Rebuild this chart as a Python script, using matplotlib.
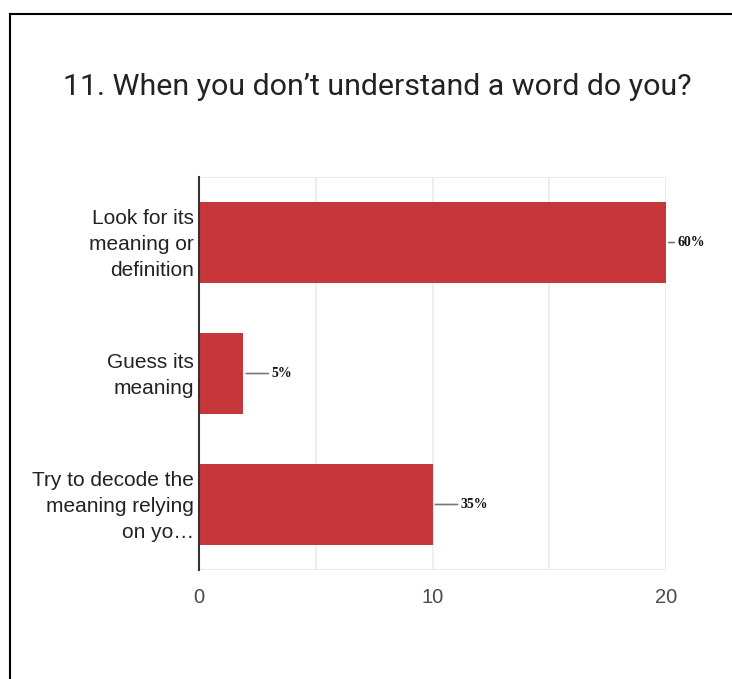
import matplotlib
matplotlib.use("Agg")
import matplotlib.pyplot as plt
from matplotlib.transforms import ScaledTranslation

# survey answers, top to bottom
answers = ["Look for its\nmeaning or\ndefinition",
           "Guess its\nmeaning",
           "Try to decode the\nmeaning relying\non yo\u2026"]
counts = [20, 1.9, 10]
pct_labels = ["60%", "5%", "35%"]
xticks = [0, 10, 20]

barColor = "#c6363a"

fig = plt.figure(figsize=(7.32, 6.79), dpi=100)
fig.patch.set_facecolor("white")

# black frame round the card (open at bottom / right edge)
fig.add_artist(plt.Line2D([10/732, 10/732], [0, 1 - 14/679], color="black", lw=1.5, transform=fig.transFigure))
fig.add_artist(plt.Line2D([10/732, 1], [1 - 14/679, 1 - 14/679], color="black", lw=1.5, transform=fig.transFigure))

fig.text(63/732, 1 - 87/679, "11. When you don\u2019t understand a word do you?",
         fontsize=21.9, family="Roboto", color="#222222", va="center", ha="left")

ax = fig.add_axes([199/732, 1 - 570/679, 467/732, 393/679])
ypos = list(range(len(answers)))
ax.barh(ypos, counts, height=0.62, color=barColor, zorder=3)
ax.set_ylim(len(answers) - 0.5, -0.5)
ax.set_xlim(0, 20)

# light grid every 5
for gx in [5, 10, 15, 20]:
    ax.axvline(gx, color="#ebebeb", lw=1.2, zorder=1)
ax.axhline(-0.5, color="#ebebeb", lw=1.5, zorder=1)
ax.axhline(len(answers) - 0.5, color="#ebebeb", lw=1.5, zorder=1)

for s in ["top", "right", "bottom"]:
    ax.spines[s].set_visible(False)
ax.spines["left"].set_color("#333333")
ax.spines["left"].set_linewidth(1.5)
ax.spines["left"].set_zorder(4)

ax.set_yticks(ypos)
ax.set_yticklabels(answers, fontsize=15, family="Liberation Sans", color="#222222", linespacing=1.47)
ax.set_xticks(xticks)
ax.set_xticklabels([str(t) for t in xticks], fontsize=14.5, family="Liberation Sans", color="#4a4a4a")
ax.tick_params(axis="y", length=0, pad=3.5)
ax.tick_params(axis="x", length=0, pad=13)

# nudge the wrapped answer labels up a little
lift = ScaledTranslation(0, 0.035, fig.dpi_scale_trans)
for lbl in ax.get_yticklabels():
    lbl.set_transform(lbl.get_transform() + lift)

# percentage labels with a short leader line
for i, (v, lab) in enumerate(zip(counts, pct_labels)):
    off = 8 if v >= max(counts) else 20
    ax.annotate(lab, xy=(v, i), xytext=(off, 0), textcoords="offset points",
                va="center", ha="left", fontsize=10, fontweight="bold",
                family="Liberation Serif", color="#111111",
                arrowprops=dict(arrowstyle="-", color="#777777", lw=1.2, shrinkA=0, shrinkB=2),
                annotation_clip=False, zorder=5)

fig.savefig("out.png", dpi=100, facecolor="white")
